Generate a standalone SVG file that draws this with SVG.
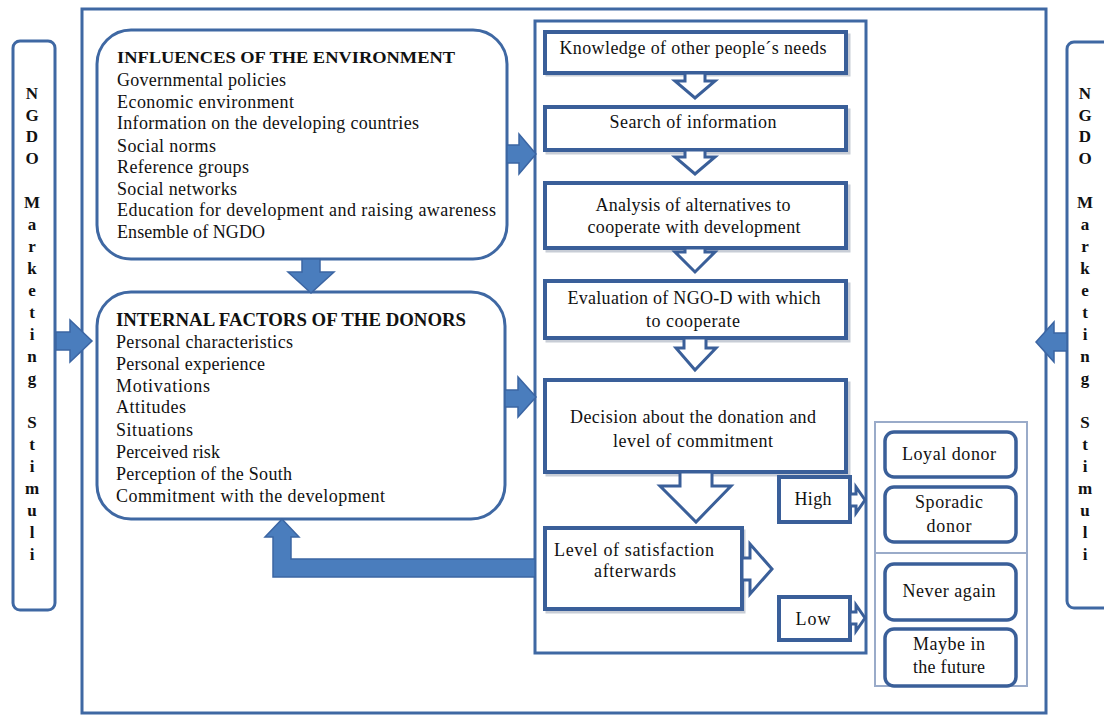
<svg xmlns="http://www.w3.org/2000/svg" width="1104" height="715" viewBox="0 0 1104 715">
<style>
.frame{fill:none;stroke:#3f68a3;stroke-width:3}
.rbox{fill:#fff;stroke:#3f68a3;stroke-width:3}
.step{fill:#fff;stroke:#3a5f99;stroke-width:4}
.shadow{fill:none;stroke:#c8cdd6;stroke-width:3}
.obox{fill:#fff;stroke:#3a5f99;stroke-width:3.5}
.panel{fill:#fff;stroke:#9aabc9;stroke-width:2}
.blk{fill:#4a7dbd;stroke:#3b65a3;stroke-width:1.5;stroke-linejoin:miter}
.hol{fill:#fff;stroke:#3a5f99;stroke-width:3;stroke-linejoin:miter}
text{font-family:"Liberation Serif","Times New Roman",serif;font-size:18px;fill:#111}
.b{font-weight:bold;font-size:17px}
.c{text-anchor:middle}
.v{font-weight:bold;font-size:17px;text-anchor:middle}
</style>

<g id="outer-frame">
<rect class="frame" x="82" y="9" width="964" height="704"/>
</g>

<g id="ngdo-left">
<rect class="rbox" x="13" y="41" width="42" height="569" rx="7"/>
<text class="v" x="32" y="99">N</text>
<text class="v" x="32" y="121">G</text>
<text class="v" x="32" y="142">D</text>
<text class="v" x="32" y="164">O</text>
<text class="v" x="32" y="208">M</text>
<text class="v" x="32" y="230">a</text>
<text class="v" x="32" y="252">r</text>
<text class="v" x="32" y="274">k</text>
<text class="v" x="32" y="296">e</text>
<text class="v" x="32" y="318">t</text>
<text class="v" x="32" y="340">i</text>
<text class="v" x="32" y="362">n</text>
<text class="v" x="32" y="384">g</text>
<text class="v" x="32" y="428">S</text>
<text class="v" x="32" y="450">t</text>
<text class="v" x="32" y="472">i</text>
<text class="v" x="32" y="494">m</text>
<text class="v" x="32" y="516">u</text>
<text class="v" x="32" y="538">l</text>
<text class="v" x="32" y="560">i</text>
</g>

<g id="ngdo-right">
<rect class="rbox" x="1067" y="42" width="50" height="566" rx="7"/>
<text class="v" x="1085" y="99">N</text>
<text class="v" x="1085" y="121">G</text>
<text class="v" x="1085" y="142">D</text>
<text class="v" x="1085" y="164">O</text>
<text class="v" x="1085" y="208">M</text>
<text class="v" x="1085" y="230">a</text>
<text class="v" x="1085" y="252">r</text>
<text class="v" x="1085" y="274">k</text>
<text class="v" x="1085" y="296">e</text>
<text class="v" x="1085" y="318">t</text>
<text class="v" x="1085" y="340">i</text>
<text class="v" x="1085" y="362">n</text>
<text class="v" x="1085" y="384">g</text>
<text class="v" x="1085" y="428">S</text>
<text class="v" x="1085" y="450">t</text>
<text class="v" x="1085" y="472">i</text>
<text class="v" x="1085" y="494">m</text>
<text class="v" x="1085" y="516">u</text>
<text class="v" x="1085" y="538">l</text>
<text class="v" x="1085" y="560">i</text>
</g>

<g id="influences">
<rect class="rbox" x="97" y="30" width="410" height="229" rx="34"/>
<text class="b" x="117" y="63" textLength="338" lengthAdjust="spacingAndGlyphs">INFLUENCES OF THE ENVIRONMENT</text>
<text x="117" y="86" textLength="169">Governmental policies</text>
<text x="117" y="108" textLength="177">Economic environment</text>
<text x="117" y="129" textLength="302">Information on the developing countries</text>
<text x="117" y="152" textLength="99">Social norms</text>
<text x="117" y="173" textLength="132">Reference groups</text>
<text x="117" y="195" textLength="120">Social networks</text>
<text x="117" y="216" textLength="379">Education for development and  raising awareness</text>
<text x="117" y="238" textLength="148">Ensemble of NGDO</text>
</g>

<g id="internal">
<rect class="rbox" x="97" y="292" width="408" height="227" rx="34"/>
<text class="b" x="116" y="326" style="font-size:18.5px" textLength="350" lengthAdjust="spacingAndGlyphs">INTERNAL  FACTORS  OF THE DONORS</text>
<text x="116" y="348" textLength="177">Personal characteristics</text>
<text x="116" y="370" textLength="149">Personal experience</text>
<text x="116" y="392" textLength="94">Motivations</text>
<text x="116" y="413" textLength="70">Attitudes</text>
<text x="116" y="436" textLength="77">Situations</text>
<text x="116" y="458" textLength="104">Perceived risk</text>
<text x="116" y="480" textLength="176">Perception of the South</text>
<text x="116" y="502" textLength="269">Commitment with the development</text>
</g>

<g id="process-frame">
<rect class="frame" x="535" y="21" width="331" height="632"/>
</g>

<g id="step1">
<rect class="shadow" x="547" y="35" width="302" height="40"/>
<rect class="step" x="545" y="32" width="301" height="41"/>
<text class="c" x="693" y="54" textLength="267">Knowledge of other people´s needs</text>
</g>
<g id="step2">
<rect class="shadow" x="547" y="110" width="302" height="43"/>
<rect class="step" x="545" y="107" width="301" height="43"/>
<text class="c" x="693" y="128" textLength="167">Search of information</text>
</g>
<g id="step3">
<rect class="shadow" x="547" y="186" width="302" height="65"/>
<rect class="step" x="545" y="183" width="301" height="65"/>
<text class="c" x="693" y="211" textLength="195">Analysis of alternatives to</text>
<text class="c" x="694" y="233" textLength="213">cooperate with development</text>
</g>
<g id="step4">
<rect class="shadow" x="547" y="284" width="302" height="57"/>
<rect class="step" x="545" y="281" width="301" height="57"/>
<text class="c" x="694" y="304" textLength="253">Evaluation of NGO-D  with which</text>
<text class="c" x="693" y="327" textLength="94">to cooperate</text>
</g>
<g id="step5">
<rect class="shadow" x="547" y="383" width="302" height="92"/>
<rect class="step" x="545" y="380" width="301" height="92"/>
<text class="c" x="693" y="423" textLength="246">Decision about the donation and</text>
<text class="c" x="693" y="447" textLength="160">level of commitment</text>
</g>
<g id="step6">
<rect class="shadow" x="547" y="531" width="197" height="81"/>
<rect class="step" x="545" y="528" width="197" height="81"/>
<text x="554" y="556" textLength="160">Level of satisfaction</text>
<text class="c" x="635" y="577" textLength="82">afterwards</text>
</g>
<g id="high">
<rect class="step" x="779" y="477" width="71" height="45"/>
<text class="c" x="813" y="505" textLength="37">High</text>
</g>
<g id="low">
<rect class="step" x="779" y="597" width="71" height="43"/>
<text class="c" x="813" y="625" textLength="35">Low</text>
</g>

<g id="outcome-panel">
<rect class="panel" x="875" y="422" width="152" height="264"/>
<line x1="875" y1="553" x2="1027" y2="553" stroke="#9aabc9" stroke-width="2"/>
</g>
<g id="loyal">
<rect class="obox" x="885" y="432" width="131" height="45" rx="9"/>
<text class="c" x="949" y="460" textLength="94">Loyal donor</text>
</g>
<g id="sporadic">
<rect class="obox" x="885" y="487" width="131" height="55" rx="9"/>
<text class="c" x="949" y="508" textLength="68">Sporadic</text>
<text class="c" x="949" y="532" textLength="45">donor</text>
</g>
<g id="never">
<rect class="obox" x="885" y="564" width="131" height="56" rx="9"/>
<text class="c" x="949" y="597" textLength="93">Never again</text>
</g>
<g id="maybe">
<rect class="obox" x="885" y="629" width="131" height="57" rx="9"/>
<text class="c" x="949" y="650" textLength="72">Maybe in</text>
<text class="c" x="949" y="673" textLength="72">the future</text>
</g>

<g id="connectors">
<polygon class="blk" points="56,332 70,332 70,320 92,341 70,362 70,350 56,350"/>
<polygon class="blk" points="1067,333 1054,333 1054,322 1036,342 1054,362 1054,351 1067,351"/>
<polygon class="blk" points="507,145 519,145 519,134 536,154 519,174 519,163 507,163"/>
<polygon class="blk" points="505,390 518,390 518,377 536,397 518,417 518,407 505,407"/>
<polygon class="blk" points="302,259 320,259 320,272 334,272 311,293 288,272 302,272"/>
<polygon class="blk" points="535,559 291,559 291,537 299,537 282,519 265,537 273,537 273,577 535,577"/>
<polygon class="hol" points="685,73 685,81 675,81 695,98 715,81 705,81 705,73"/>
<polygon class="hol" points="685,150 685,157 675,157 695,174 715,157 705,157 705,150"/>
<polygon class="hol" points="685,248 685,252 675,252 695,272 715,252 705,252 705,248"/>
<polygon class="hol" points="684,338 684,348 676,348 695,370 716,348 706,348 706,338"/>
<polygon class="hol" points="680,472 680,486 660,486 696,522 731,486 712,486 712,472"/>
<polygon class="hol" points="742,558 750,558 750,544 772,569 750,594 750,580 742,580"/>
<polygon class="hol" points="850,494 856,494 856,487 865,500 856,513 856,506 850,506"/>
<polygon class="hol" points="850,612 856,612 856,605 865,618 856,631 856,624 850,624"/>
</g>
</svg>
